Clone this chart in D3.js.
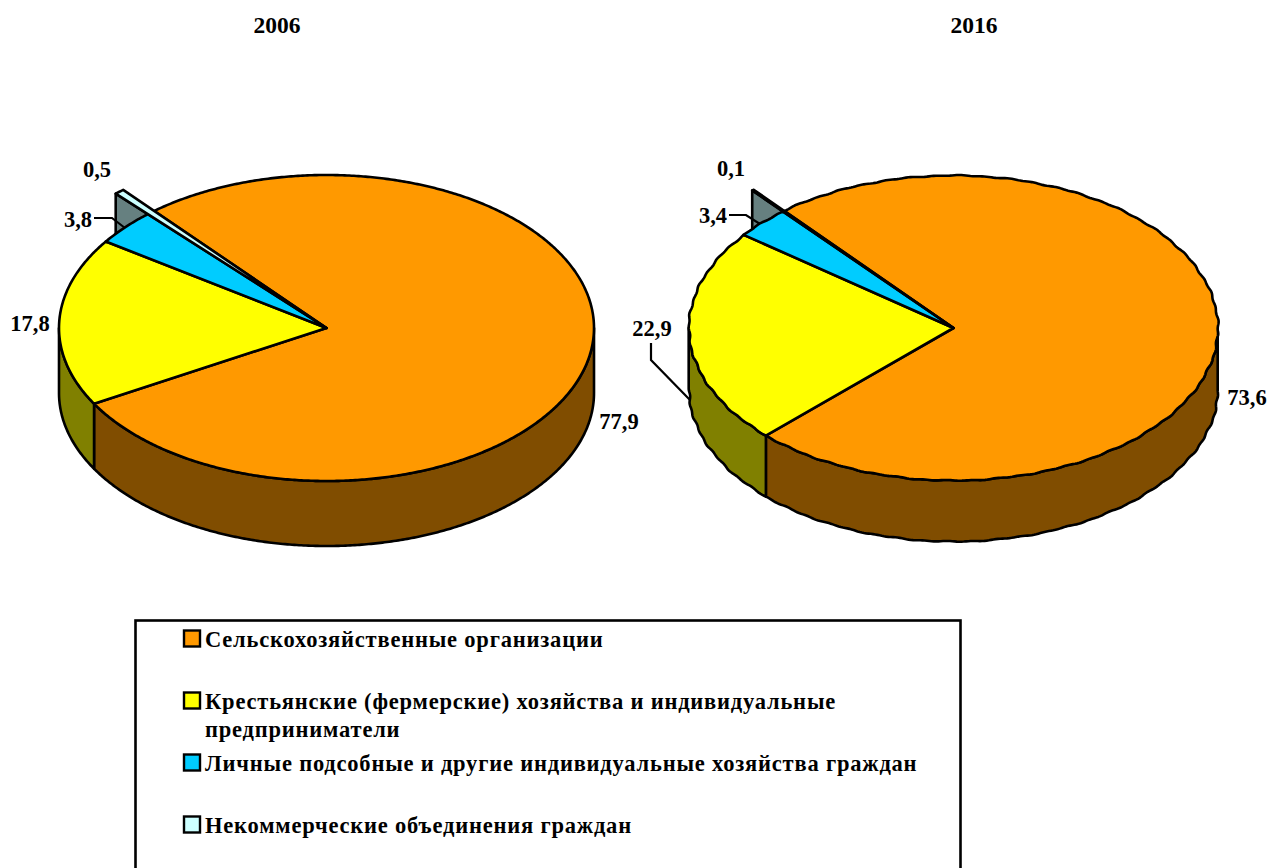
<!DOCTYPE html>
<html>
<head>
<meta charset="utf-8">
<script src="https://cdnjs.cloudflare.com/ajax/libs/d3/7.8.5/d3.min.js"></script>
<style>
  html, body { margin: 0; padding: 0; background: #fff; overflow: hidden; }
  text { font-family: "Liberation Serif", serif; font-weight: bold; fill: #000; }
</style>
</head>
<body>
<svg id="chart" width="1269" height="868"></svg>
<script>
// Data
const categories = [
  "Сельскохозяйственные организации",
  "Крестьянские (фермерские) хозяйства и индивидуальные предприниматели",
  "Личные подсобные и другие индивидуальные хозяйства граждан",
  "Некоммерческие объединения граждан"
];
const years = ["2006", "2016"];
const values2006 = [77.9, 17.8, 3.8, 0.5];
const values2016 = [73.6, 22.9, 3.4, 0.1];

const topColors = ["#FF9900", "#FFFF00", "#00CCFF", "#CCFFFF"];
const sideColors = ["#804D00", "#808000", "#006680", "#668080"];

const svg = d3.select("#chart");
const deg = Math.PI / 180;
const line = d3.line();

// the last slice sticks out of the pie in the original
const tipScale = 1.18;

function drawPie(cfg) {
  const { cx, cy, rx, ry, depth, values, start, ripple } = cfg;
  const pie = d3.pie().sort(null).startAngle(start * deg).endAngle((start + 360) * deg);
  const slices = pie(values);
  const g = svg.append("g");

  // the 2016 pie has a slightly rough outline
  const edge = (a, k = 1) => {
    const w = ripple && k === 1 ? 1 + 0.002 * Math.sin(a * 67) + 0.0015 * Math.sin(a * 29 + 1) : 1;
    return [cx + rx * k * w * Math.sin(a), cy - ry * k * w * Math.cos(a)];
  };
  const fine = (a0, a1, k) => {
    const n = Math.max(2, Math.ceil(Math.abs(a1 - a0) / (0.5 * deg)));
    return d3.range(0, n + 1).map(i => edge(a0 + (a1 - a0) * i / n, k));
  };
  const sunk = p => [p[0], p[1] + depth];
  const style = sel => sel.attr("stroke", "#000").attr("stroke-width", 2.6).attr("stroke-linejoin", "round");

  // inner wall of the protruding slice, behind everything
  const tip = slices[slices.length - 1];
  const p0 = edge(tip.startAngle, tipScale);
  style(g.append("path")
    .attr("d", line([[cx, cy], p0, sunk(p0), [cx, cy + depth]]) + "Z")
    .attr("fill", sideColors[3]));

  // outer walls, front half only
  slices.forEach((s, i) => {
    const a0 = Math.max(s.startAngle, 90 * deg);
    const a1 = Math.min(s.endAngle, 270 * deg);
    if (a1 <= a0) return;
    const top = fine(a0, a1);
    const pts = top.concat(top.slice().reverse().map(sunk));
    style(g.append("path").attr("d", line(pts) + "Z").attr("fill", sideColors[i]));
  });

  // top faces
  slices.forEach((s, i) => {
    const k = i === slices.length - 1 ? tipScale : 1;
    const pts = [[cx, cy]].concat(fine(s.startAngle, s.endAngle, k));
    style(g.append("path").attr("d", line(pts) + "Z").attr("fill", topColors[i]));
  });
}

drawPie({ cx: 326.5, cy: 328, rx: 267.5, ry: 153, depth: 65, values: values2006, start: -40.1, ripple: false });
drawPie({ cx: 953.5, cy: 328, rx: 264.5, ry: 152.5, depth: 61, values: values2016, start: -39.8, ripple: true });

// Titles
const titleX = [277, 974];
svg.selectAll(".year").data(years).enter().append("text")
  .attr("x", (d, i) => titleX[i]).attr("y", 33)
  .attr("text-anchor", "middle").style("font-size", "23.5px")
  .text(d => d);

// Value labels
const fmt = v => String(v).replace(".", ",");
const labelPos = [
  [[619, 429], [30, 331], [78, 227], [97, 177]],
  [[1247, 405], [652, 336], [713, 223], [731, 176]]
];
[values2006, values2016].forEach((vals, y) => {
  svg.selectAll(".lab" + y).data(vals).enter().append("text")
    .attr("x", (d, i) => labelPos[y][i][0]).attr("y", (d, i) => labelPos[y][i][1])
    .attr("text-anchor", "middle").style("font-size", "22.5px")
    .text(fmt);
});

// Leader lines
const leaders = [
  [[94, 218], [112, 218], [125, 228]],
  [[729, 215], [746, 215], [760, 224]],
  [[651, 343], [651, 360], [690, 400]]
];
svg.selectAll(".leader").data(leaders).enter().append("path")
  .attr("d", d => line(d)).attr("fill", "none")
  .attr("stroke", "#000").attr("stroke-width", 2.2);

// Legend
svg.append("rect").attr("x", 135.5).attr("y", 620.5).attr("width", 825).attr("height", 300)
  .attr("fill", "none").attr("stroke", "#000").attr("stroke-width", 2.6);

const legendLines = [
  [categories[0]],
  ["Крестьянские (фермерские) хозяйства и индивидуальные", "предприниматели"],
  [categories[2]],
  [categories[3]]
];
const legendY = [647, 709, 771, 833];
const legend = svg.selectAll(".legend").data(legendLines).enter().append("g")
  .attr("transform", (d, i) => `translate(0,${legendY[i]})`);
legend.append("rect")
  .attr("x", 184).attr("y", -16.5).attr("width", 16).attr("height", 16)
  .attr("fill", (d, i) => topColors[i]).attr("stroke", "#000").attr("stroke-width", 2.4);
legend.selectAll("text").data(d => d).enter().append("text")
  .attr("x", 205).attr("y", (d, i) => i * 28)
  .style("font-size", "22.5px").style("letter-spacing", "0.8px")
  .text(d => d);
</script>
</body>
</html>
